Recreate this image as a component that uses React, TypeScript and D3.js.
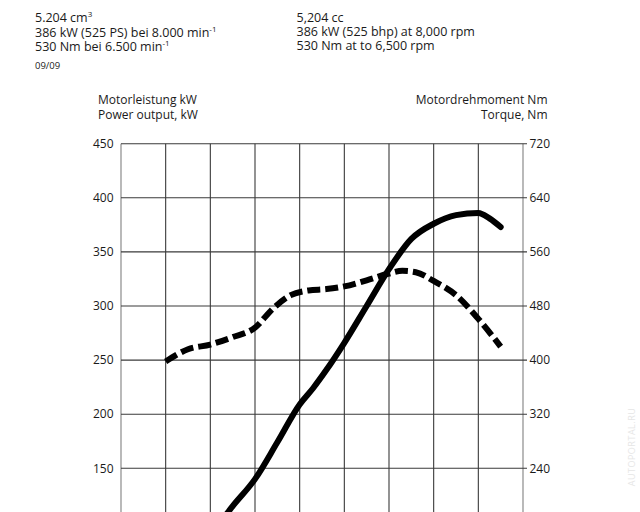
import { scaleLinear, line as d3line, curveMonotoneX } from "d3";

// engine speed (rpm) and readings
const powerRpm = [1000, 1500, 2000, 2500, 3000, 3500, 4000, 4300, 4600, 5000, 5500, 6000, 6500, 7000, 7500, 8000, 8250, 8500];
const powerKw = [42, 65, 88, 115, 140, 174, 209, 224, 241, 266, 300, 334, 362, 376, 384, 386, 381, 373];

const torqueRpm = [1000, 1500, 2000, 2500, 3000, 3400, 3800, 4200, 4600, 5000, 5500, 6000, 6300, 6600, 7000, 7500, 8000, 8500];
const torqueNm = [398, 416, 423, 434, 448, 476, 496, 503, 505, 509, 518, 528, 532, 530, 517, 496, 461, 420];

const rpmGrid = [0, 1000, 2000, 3000, 4000, 5000, 6000, 7000, 8000, 9000];
const kwTicks = [150, 200, 250, 300, 350, 400, 450];
const nmTicks = [240, 320, 400, 480, 560, 640, 720];

const headerDe = ["5.204 cm", "386 kW (525 PS) bei 8.000 min", "530 Nm bei 6.500 min"];
const headerEn = ["5,204 cc", "386 kW (525 bhp) at 8,000 rpm", "530 Nm at to 6,500 rpm"];

const WIDTH = 640;
const HEIGHT = 512;
const PLOT = { left: 121, right: 523, top: 143.7, zero: 630.6 };
const FONT = "'Open Sans', 'DejaVu Sans', sans-serif";
const INK = "#1a1a1a";

export default function App() {
  const x = scaleLinear().domain([0, 9000]).range([PLOT.left, PLOT.right]);
  const yKw = scaleLinear().domain([0, 450]).range([PLOT.zero, PLOT.top]);
  const yNm = scaleLinear().domain([0, 720]).range([PLOT.zero, PLOT.top]);

  const powerPath =
    d3line<number>()
      .x((_, i) => x(powerRpm[i]))
      .y((v) => yKw(v))
      .curve(curveMonotoneX)(powerKw) ?? "";

  const torquePath =
    d3line<number>()
      .x((_, i) => x(torqueRpm[i]))
      .y((v) => yNm(v))
      .curve(curveMonotoneX)(torqueNm) ?? "";

  return (
    <svg
      width={WIDTH}
      height={HEIGHT}
      viewBox={`0 0 ${WIDTH} ${HEIGHT}`}
      style={{ position: "absolute", left: 0, top: 0, background: "#fff" }}
      fontFamily={FONT}
    >
      {/* header */}
      <g fill={INK} fontSize={12.5}>
        <text x={35} y={22}>
          {headerDe[0]}
          <tspan dy={-5} fontSize={8}>3</tspan>
        </text>
        <text x={35} y={36.5}>
          {headerDe[1]}
          <tspan dy={-5} fontSize={8}>-1</tspan>
        </text>
        <text x={35} y={50.5}>
          {headerDe[2]}
          <tspan dy={-5} fontSize={8}>-1</tspan>
        </text>
        <text x={35} y={68.5} fontSize={9.5}>09/09</text>
        {headerEn.map((t, i) => (
          <text key={i} x={296.5} y={22 + i * 14.2}>
            {t}
          </text>
        ))}
      </g>

      {/* axis titles */}
      <g fill={INK} fontSize={12}>
        <text x={98} y={104}>Motorleistung kW</text>
        <text x={98} y={118.5}>Power output, kW</text>
        <text x={547.5} y={104} textAnchor="end">Motordrehmoment Nm</text>
        <text x={547.5} y={118.5} textAnchor="end">Torque, Nm</text>
      </g>

      {/* grid */}
      <g stroke="#3a3a3a" strokeWidth={1.1}>
        {rpmGrid.map((r) => (
          <line
            key={r}
            x1={x(r)}
            x2={x(r)}
            y1={PLOT.top}
            y2={PLOT.zero}
            stroke={r === 0 || r === 9000 ? "#808080" : "#3a3a3a"}
          />
        ))}
        {kwTicks.map((t) => (
          <line key={t} x1={PLOT.left} x2={PLOT.right + 4} y1={yKw(t)} y2={yKw(t)} />
        ))}
      </g>

      {/* tick labels */}
      <g fill={INK} fontSize={12}>
        {kwTicks.map((t) => (
          <text key={t} x={113.5} y={yKw(t)} dy="0.35em" textAnchor="end">
            {t}
          </text>
        ))}
        {nmTicks.map((t) => (
          <text key={t} x={529.5} y={yNm(t)} dy="0.35em">
            {t}
          </text>
        ))}
      </g>

      {/* curves */}
      <path d={torquePath} fill="none" stroke="#000" strokeWidth={6} strokeDasharray="13 5" />
      <path d={powerPath} fill="none" stroke="#000" strokeWidth={6} strokeLinecap="round" strokeLinejoin="round" />

      {/* watermark */}
      <text
        x={0}
        y={0}
        transform="translate(635,447) rotate(-90)"
        textAnchor="middle"
        fontSize={9}
        fill="#e6e6e6"
        letterSpacing={0.5}
      >
        AUTOPORTAL.RU
      </text>
    </svg>
  );
}
